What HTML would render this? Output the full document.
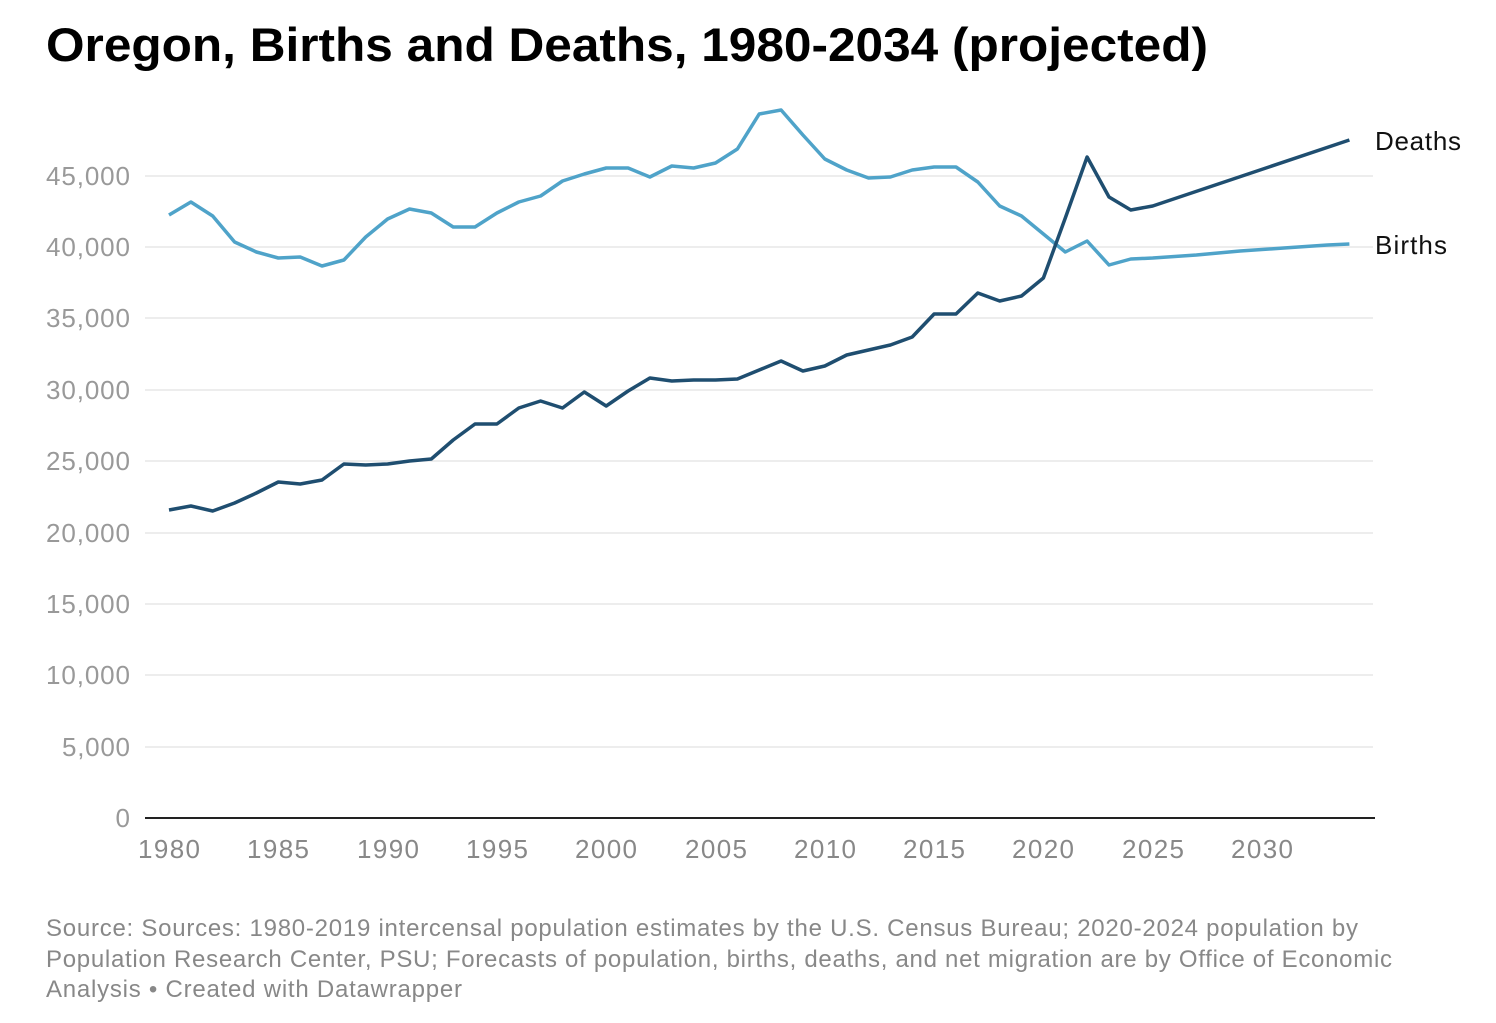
<!DOCTYPE html>
<html><head><meta charset="utf-8"><style>
body{margin:0;background:#fff;width:1496px;height:1018px;overflow:hidden;font-family:"Liberation Sans",sans-serif}
</style></head><body>
<svg width="1496" height="1018" xmlns="http://www.w3.org/2000/svg" font-family="Liberation Sans, sans-serif">
<text x="46" y="61" font-size="47" font-weight="bold" fill="#000" textLength="1162" lengthAdjust="spacingAndGlyphs">Oregon, Births and Deaths, 1980-2034 (projected)</text>
<g stroke="#e2e2e2" stroke-width="1.3">
<line x1="145" x2="1373" y1="176" y2="176"/><line x1="145" x2="1373" y1="247" y2="247"/><line x1="145" x2="1373" y1="318" y2="318"/><line x1="145" x2="1373" y1="390" y2="390"/><line x1="145" x2="1373" y1="461" y2="461"/><line x1="145" x2="1373" y1="533" y2="533"/><line x1="145" x2="1373" y1="604" y2="604"/><line x1="145" x2="1373" y1="675" y2="675"/><line x1="145" x2="1373" y1="747" y2="747"/>
</g>
<line x1="145" x2="1375" y1="818" y2="818" stroke="#222" stroke-width="2"/>
<g font-size="26" fill="#999" text-anchor="end" lengthAdjust="spacingAndGlyphs">
<text x="130" y="185" textLength="84">45,000</text><text x="130" y="256" textLength="84">40,000</text><text x="130" y="327" textLength="84">35,000</text><text x="130" y="399" textLength="84">30,000</text><text x="130" y="470" textLength="84">25,000</text><text x="130" y="542" textLength="84">20,000</text><text x="130" y="613" textLength="84">15,000</text><text x="130" y="684" textLength="84">10,000</text><text x="130" y="756" textLength="68">5,000</text><text x="130" y="827">0</text>
</g>
<g font-size="26" fill="#888" text-anchor="middle">
<text x="169" y="858" textLength="62">1980</text><text x="278" y="858" textLength="62">1985</text><text x="388" y="858" textLength="62">1990</text><text x="497" y="858" textLength="62">1995</text><text x="606" y="858" textLength="62">2000</text><text x="716" y="858" textLength="62">2005</text><text x="825" y="858" textLength="62">2010</text><text x="934" y="858" textLength="62">2015</text><text x="1043" y="858" textLength="62">2020</text><text x="1153" y="858" textLength="62">2025</text><text x="1262" y="858" textLength="62">2030</text>
</g>
<polyline fill="none" stroke="#4fa3c9" stroke-width="3.5" stroke-linejoin="round" points="169,215 190.9,202 212.7,216 234.6,242 256.4,252 278.3,258 300.2,257 322,266 343.9,260 365.7,237 387.6,219 409.5,209 431.3,213 453.2,227 475,227 496.9,213 518.8,202 540.6,196 562.5,181 584.3,174 606.2,168 628.1,168 649.9,177 671.8,166 693.6,168 715.5,163 737.4,149 759.2,114 781.1,110 802.9,135 824.8,159 846.7,170 868.5,178 890.4,177 912.2,170 934.1,167 956,167 977.8,182 999.7,206 1021.5,216 1043.4,234 1065.3,252 1087.1,241 1109,265 1130.8,259 1152.7,258 1196.4,255 1240.1,251 1283.9,248 1327.6,245 1349.4,244"/>
<polyline fill="none" stroke="#1f4e70" stroke-width="3.5" stroke-linejoin="round" points="169,510 190.9,506 212.7,511 234.6,503 256.4,493 278.3,482 300.2,484 322,480 343.9,464 365.7,465 387.6,464 409.5,461 431.3,459 453.2,440 475,424 496.9,424 518.8,408 540.6,401 562.5,408 584.3,392 606.2,406 628.1,391 649.9,378 671.8,381 693.6,380 715.5,380 737.4,379 759.2,370 781.1,361 802.9,371 824.8,366 846.7,355 868.5,350 890.4,345 912.2,337 934.1,314 956,314 977.8,293 999.7,301 1021.5,296 1043.4,278 1065.3,218 1087.1,157 1109,197 1130.8,210 1152.7,206 1349.4,140"/>
<text x="1375" y="150" font-size="26" fill="#111" textLength="86">Deaths</text>
<text x="1375" y="254" font-size="26" fill="#111" textLength="72">Births</text>
<g font-size="24" fill="#888" lengthAdjust="spacingAndGlyphs">
<text x="46" y="936" textLength="1312">Source: Sources: 1980-2019 intercensal population estimates by the U.S. Census Bureau; 2020-2024 population by</text>
<text x="46" y="967" textLength="1346">Population Research Center, PSU; Forecasts of population, births, deaths, and net migration are by Office of Economic</text>
<text x="46" y="997" textLength="416">Analysis • Created with Datawrapper</text>
</g>
</svg>
</body></html>
